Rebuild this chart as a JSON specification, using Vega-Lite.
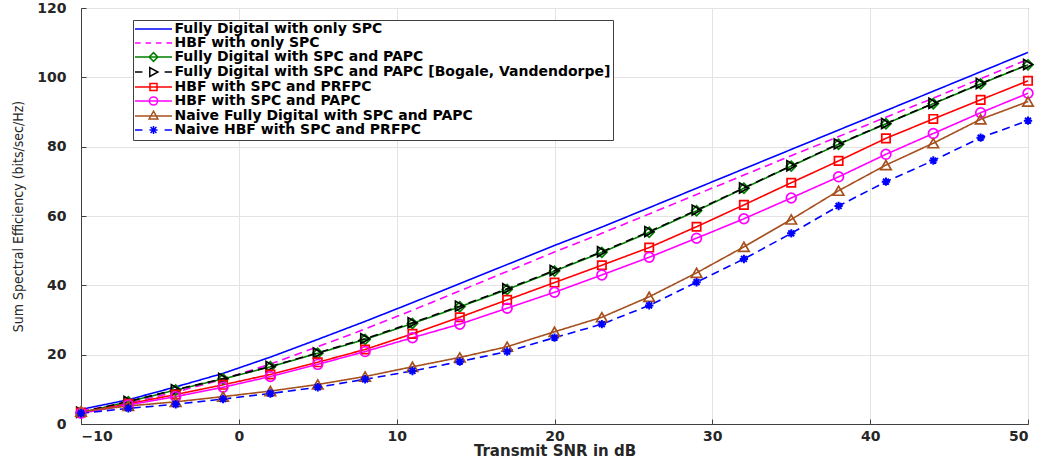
{
  "$schema": "https://vega.github.io/schema/vega-lite/v6.json",
  "width": 947,
  "height": 416,
  "autosize": {"type": "none"},
  "padding": {"left": 81, "top": 8, "right": 18, "bottom": 39},
  "background": "white",
  "config": {
    "view": {"stroke": "#404040", "strokeWidth": 1},
    "font": "DejaVu Sans",
    "axis": {
      "labelFont": "DejaVu Sans",
      "labelFontWeight": "bold",
      "labelFontSize": 14,
      "labelColor": "#262626",
      "domainColor": "#404040",
      "tickColor": "#404040",
      "tickSize": -5,
      "gridColor": "#e3e3e3",
      "grid": true
    }
  },
  "data": {"values": [
    {"series":"Fully Digital with only SPC","snr":-10,"se":4.2},{"series":"Fully Digital with only SPC","snr":-7,"se":7.0},{"series":"Fully Digital with only SPC","snr":-4,"se":10.7},{"series":"Fully Digital with only SPC","snr":-1,"se":14.6},{"series":"Fully Digital with only SPC","snr":2,"se":19.3},{"series":"Fully Digital with only SPC","snr":5,"se":24.4},{"series":"Fully Digital with only SPC","snr":8,"se":29.6},{"series":"Fully Digital with only SPC","snr":11,"se":35.0},{"series":"Fully Digital with only SPC","snr":14,"se":40.5},{"series":"Fully Digital with only SPC","snr":17,"se":46.0},{"series":"Fully Digital with only SPC","snr":20,"se":51.5},{"series":"Fully Digital with only SPC","snr":23,"se":56.8},{"series":"Fully Digital with only SPC","snr":26,"se":62.4},{"series":"Fully Digital with only SPC","snr":29,"se":68.0},{"series":"Fully Digital with only SPC","snr":32,"se":73.6},{"series":"Fully Digital with only SPC","snr":35,"se":79.2},{"series":"Fully Digital with only SPC","snr":38,"se":84.8},{"series":"Fully Digital with only SPC","snr":41,"se":90.4},{"series":"Fully Digital with only SPC","snr":44,"se":96.0},{"series":"Fully Digital with only SPC","snr":47,"se":101.6},{"series":"Fully Digital with only SPC","snr":50,"se":107.2},
    {"series":"HBF with only SPC","snr":-10,"se":3.8},{"series":"HBF with only SPC","snr":-7,"se":6.0},{"series":"HBF with only SPC","snr":-4,"se":9.2},{"series":"HBF with only SPC","snr":-1,"se":12.9},{"series":"HBF with only SPC","snr":2,"se":17.3},{"series":"HBF with only SPC","snr":5,"se":22.3},{"series":"HBF with only SPC","snr":8,"se":27.4},{"series":"HBF with only SPC","snr":11,"se":32.8},{"series":"HBF with only SPC","snr":14,"se":38.4},{"series":"HBF with only SPC","snr":17,"se":44.0},{"series":"HBF with only SPC","snr":20,"se":49.6},{"series":"HBF with only SPC","snr":23,"se":55.0},{"series":"HBF with only SPC","snr":26,"se":60.6},{"series":"HBF with only SPC","snr":29,"se":66.2},{"series":"HBF with only SPC","snr":32,"se":71.8},{"series":"HBF with only SPC","snr":35,"se":77.4},{"series":"HBF with only SPC","snr":38,"se":82.9},{"series":"HBF with only SPC","snr":41,"se":88.5},{"series":"HBF with only SPC","snr":44,"se":94.0},{"series":"HBF with only SPC","snr":47,"se":99.6},{"series":"HBF with only SPC","snr":50,"se":105.2},
    {"series":"Fully Digital with SPC and PAPC","snr":-10,"se":3.3},{"series":"Fully Digital with SPC and PAPC","snr":-7,"se":6.4},{"series":"Fully Digital with SPC and PAPC","snr":-4,"se":9.8},{"series":"Fully Digital with SPC and PAPC","snr":-1,"se":13.0},{"series":"Fully Digital with SPC and PAPC","snr":2,"se":16.5},{"series":"Fully Digital with SPC and PAPC","snr":5,"se":20.4},{"series":"Fully Digital with SPC and PAPC","snr":8,"se":24.4},{"series":"Fully Digital with SPC and PAPC","snr":11,"se":29.0},{"series":"Fully Digital with SPC and PAPC","snr":14,"se":33.8},{"series":"Fully Digital with SPC and PAPC","snr":17,"se":38.8},{"series":"Fully Digital with SPC and PAPC","snr":20,"se":44.1},{"series":"Fully Digital with SPC and PAPC","snr":23,"se":49.5},{"series":"Fully Digital with SPC and PAPC","snr":26,"se":55.3},{"series":"Fully Digital with SPC and PAPC","snr":29,"se":61.5},{"series":"Fully Digital with SPC and PAPC","snr":32,"se":68.0},{"series":"Fully Digital with SPC and PAPC","snr":35,"se":74.4},{"series":"Fully Digital with SPC and PAPC","snr":38,"se":80.7},{"series":"Fully Digital with SPC and PAPC","snr":41,"se":86.6},{"series":"Fully Digital with SPC and PAPC","snr":44,"se":92.4},{"series":"Fully Digital with SPC and PAPC","snr":47,"se":98.1},{"series":"Fully Digital with SPC and PAPC","snr":50,"se":103.6},
    {"series":"Fully Digital with SPC and PAPC [Bogale, Vandendorpe]","snr":-10,"se":3.4},{"series":"Fully Digital with SPC and PAPC [Bogale, Vandendorpe]","snr":-7,"se":6.5},{"series":"Fully Digital with SPC and PAPC [Bogale, Vandendorpe]","snr":-4,"se":9.9},{"series":"Fully Digital with SPC and PAPC [Bogale, Vandendorpe]","snr":-1,"se":13.1},{"series":"Fully Digital with SPC and PAPC [Bogale, Vandendorpe]","snr":2,"se":16.6},{"series":"Fully Digital with SPC and PAPC [Bogale, Vandendorpe]","snr":5,"se":20.5},{"series":"Fully Digital with SPC and PAPC [Bogale, Vandendorpe]","snr":8,"se":24.6},{"series":"Fully Digital with SPC and PAPC [Bogale, Vandendorpe]","snr":11,"se":29.2},{"series":"Fully Digital with SPC and PAPC [Bogale, Vandendorpe]","snr":14,"se":34.0},{"series":"Fully Digital with SPC and PAPC [Bogale, Vandendorpe]","snr":17,"se":39.0},{"series":"Fully Digital with SPC and PAPC [Bogale, Vandendorpe]","snr":20,"se":44.3},{"series":"Fully Digital with SPC and PAPC [Bogale, Vandendorpe]","snr":23,"se":49.7},{"series":"Fully Digital with SPC and PAPC [Bogale, Vandendorpe]","snr":26,"se":55.5},{"series":"Fully Digital with SPC and PAPC [Bogale, Vandendorpe]","snr":29,"se":61.7},{"series":"Fully Digital with SPC and PAPC [Bogale, Vandendorpe]","snr":32,"se":68.1},{"series":"Fully Digital with SPC and PAPC [Bogale, Vandendorpe]","snr":35,"se":74.5},{"series":"Fully Digital with SPC and PAPC [Bogale, Vandendorpe]","snr":38,"se":80.8},{"series":"Fully Digital with SPC and PAPC [Bogale, Vandendorpe]","snr":41,"se":86.7},{"series":"Fully Digital with SPC and PAPC [Bogale, Vandendorpe]","snr":44,"se":92.5},{"series":"Fully Digital with SPC and PAPC [Bogale, Vandendorpe]","snr":47,"se":98.2},{"series":"Fully Digital with SPC and PAPC [Bogale, Vandendorpe]","snr":50,"se":103.7},
    {"series":"HBF with SPC and PRFPC","snr":-10,"se":3.3},{"series":"HBF with SPC and PRFPC","snr":-7,"se":5.8},{"series":"HBF with SPC and PRFPC","snr":-4,"se":8.5},{"series":"HBF with SPC and PRFPC","snr":-1,"se":11.3},{"series":"HBF with SPC and PRFPC","snr":2,"se":14.3},{"series":"HBF with SPC and PRFPC","snr":5,"se":17.8},{"series":"HBF with SPC and PRFPC","snr":8,"se":21.5},{"series":"HBF with SPC and PRFPC","snr":11,"se":26.0},{"series":"HBF with SPC and PRFPC","snr":14,"se":30.8},{"series":"HBF with SPC and PRFPC","snr":17,"se":35.8},{"series":"HBF with SPC and PRFPC","snr":20,"se":40.8},{"series":"HBF with SPC and PRFPC","snr":23,"se":45.8},{"series":"HBF with SPC and PRFPC","snr":26,"se":50.9},{"series":"HBF with SPC and PRFPC","snr":29,"se":56.9},{"series":"HBF with SPC and PRFPC","snr":32,"se":63.2},{"series":"HBF with SPC and PRFPC","snr":35,"se":69.6},{"series":"HBF with SPC and PRFPC","snr":38,"se":75.9},{"series":"HBF with SPC and PRFPC","snr":41,"se":82.4},{"series":"HBF with SPC and PRFPC","snr":44,"se":88.0},{"series":"HBF with SPC and PRFPC","snr":47,"se":93.5},{"series":"HBF with SPC and PRFPC","snr":50,"se":99.0},
    {"series":"HBF with SPC and PAPC","snr":-10,"se":3.1},{"series":"HBF with SPC and PAPC","snr":-7,"se":5.5},{"series":"HBF with SPC and PAPC","snr":-4,"se":7.9},{"series":"HBF with SPC and PAPC","snr":-1,"se":10.6},{"series":"HBF with SPC and PAPC","snr":2,"se":13.7},{"series":"HBF with SPC and PAPC","snr":5,"se":17.2},{"series":"HBF with SPC and PAPC","snr":8,"se":20.9},{"series":"HBF with SPC and PAPC","snr":11,"se":24.9},{"series":"HBF with SPC and PAPC","snr":14,"se":28.8},{"series":"HBF with SPC and PAPC","snr":17,"se":33.4},{"series":"HBF with SPC and PAPC","snr":20,"se":38.0},{"series":"HBF with SPC and PAPC","snr":23,"se":43.0},{"series":"HBF with SPC and PAPC","snr":26,"se":48.1},{"series":"HBF with SPC and PAPC","snr":29,"se":53.6},{"series":"HBF with SPC and PAPC","snr":32,"se":59.2},{"series":"HBF with SPC and PAPC","snr":35,"se":65.2},{"series":"HBF with SPC and PAPC","snr":38,"se":71.3},{"series":"HBF with SPC and PAPC","snr":41,"se":77.8},{"series":"HBF with SPC and PAPC","snr":44,"se":83.8},{"series":"HBF with SPC and PAPC","snr":47,"se":89.8},{"series":"HBF with SPC and PAPC","snr":50,"se":95.4},
    {"series":"Naive Fully Digital with SPC and PAPC","snr":-10,"se":3.6},{"series":"Naive Fully Digital with SPC and PAPC","snr":-7,"se":5.2},{"series":"Naive Fully Digital with SPC and PAPC","snr":-4,"se":6.4},{"series":"Naive Fully Digital with SPC and PAPC","snr":-1,"se":7.9},{"series":"Naive Fully Digital with SPC and PAPC","snr":2,"se":9.5},{"series":"Naive Fully Digital with SPC and PAPC","snr":5,"se":11.4},{"series":"Naive Fully Digital with SPC and PAPC","snr":8,"se":13.7},{"series":"Naive Fully Digital with SPC and PAPC","snr":11,"se":16.5},{"series":"Naive Fully Digital with SPC and PAPC","snr":14,"se":19.2},{"series":"Naive Fully Digital with SPC and PAPC","snr":17,"se":22.3},{"series":"Naive Fully Digital with SPC and PAPC","snr":20,"se":26.6},{"series":"Naive Fully Digital with SPC and PAPC","snr":23,"se":30.8},{"series":"Naive Fully Digital with SPC and PAPC","snr":26,"se":36.7},{"series":"Naive Fully Digital with SPC and PAPC","snr":29,"se":43.6},{"series":"Naive Fully Digital with SPC and PAPC","snr":32,"se":51.1},{"series":"Naive Fully Digital with SPC and PAPC","snr":35,"se":59.0},{"series":"Naive Fully Digital with SPC and PAPC","snr":38,"se":67.3},{"series":"Naive Fully Digital with SPC and PAPC","snr":41,"se":74.7},{"series":"Naive Fully Digital with SPC and PAPC","snr":44,"se":81.0},{"series":"Naive Fully Digital with SPC and PAPC","snr":47,"se":87.9},{"series":"Naive Fully Digital with SPC and PAPC","snr":50,"se":93.0},
    {"series":"Naive HBF with SPC and PRFPC","snr":-10,"se":3.1},{"series":"Naive HBF with SPC and PRFPC","snr":-7,"se":4.5},{"series":"Naive HBF with SPC and PRFPC","snr":-4,"se":5.7},{"series":"Naive HBF with SPC and PRFPC","snr":-1,"se":7.2},{"series":"Naive HBF with SPC and PRFPC","snr":2,"se":8.8},{"series":"Naive HBF with SPC and PRFPC","snr":5,"se":10.6},{"series":"Naive HBF with SPC and PRFPC","snr":8,"se":12.9},{"series":"Naive HBF with SPC and PRFPC","snr":11,"se":15.3},{"series":"Naive HBF with SPC and PRFPC","snr":14,"se":18.0},{"series":"Naive HBF with SPC and PRFPC","snr":17,"se":20.9},{"series":"Naive HBF with SPC and PRFPC","snr":20,"se":24.9},{"series":"Naive HBF with SPC and PRFPC","snr":23,"se":28.8},{"series":"Naive HBF with SPC and PRFPC","snr":26,"se":34.2},{"series":"Naive HBF with SPC and PRFPC","snr":29,"se":40.9},{"series":"Naive HBF with SPC and PRFPC","snr":32,"se":47.6},{"series":"Naive HBF with SPC and PRFPC","snr":35,"se":55.0},{"series":"Naive HBF with SPC and PRFPC","snr":38,"se":62.9},{"series":"Naive HBF with SPC and PRFPC","snr":41,"se":69.9},{"series":"Naive HBF with SPC and PRFPC","snr":44,"se":76.0},{"series":"Naive HBF with SPC and PRFPC","snr":47,"se":82.6},{"series":"Naive HBF with SPC and PRFPC","snr":50,"se":87.5}
  ]},
  "encoding": {
    "x": {
      "field": "snr", "type": "quantitative",
      "scale": {"domain": [-10, 50], "nice": false},
      "axis": {"values": [-10, 0, 10, 20, 30, 40, 50], "title": "Transmit SNR in dB", "titleFont": "DejaVu Sans", "titleFontWeight": "bold", "titleFontSize": 15, "titleColor": "#262626", "labelPadding": 10, "titlePadding": 0}
    },
    "y": {
      "field": "se", "type": "quantitative",
      "scale": {"domain": [0, 120], "nice": false},
      "axis": {"values": [0, 20, 40, 60, 80, 100, 120], "title": "Sum Spectral Efficiency (bits/sec/Hz)", "titleFont": "Liberation Sans Narrow, DejaVu Sans Condensed, sans-serif", "titleFontWeight": "normal", "titleFontSize": 14, "titleColor": "#262626", "labelPadding": 20, "titlePadding": 11}
    },
    "color": {"field": "series", "type": "nominal", "legend": null,
      "scale": {"domain": ["Fully Digital with only SPC","HBF with only SPC","Fully Digital with SPC and PAPC","Fully Digital with SPC and PAPC [Bogale, Vandendorpe]","HBF with SPC and PRFPC","HBF with SPC and PAPC","Naive Fully Digital with SPC and PAPC","Naive HBF with SPC and PRFPC"],
                "range": ["#0000FF","#FF00FF","#008000","#000000","#FF0000","#FF00FF","#A5501E","#0000FF"]}}
  },
  "layer": [
    {
      "mark": {"type": "line", "strokeWidth": 1.6},
      "encoding": {
        "strokeDash": {"field": "series", "type": "nominal", "legend": null,
          "scale": {"domain": ["Fully Digital with only SPC","HBF with only SPC","Fully Digital with SPC and PAPC","Fully Digital with SPC and PAPC [Bogale, Vandendorpe]","HBF with SPC and PRFPC","HBF with SPC and PAPC","Naive Fully Digital with SPC and PAPC","Naive HBF with SPC and PRFPC"],
                    "range": [[1,0],[8,5],[1,0],[8,5],[1,0],[1,0],[1,0],[8,5]]}}
      }
    },
    {
      "transform": [{"filter": {"field": "series", "equal": "Fully Digital with SPC and PAPC"}}],
      "mark": {"type": "point", "shape": "diamond", "filled": false, "strokeWidth": 1.7, "size": 100, "opacity": 1},
      "encoding": {}
    },
    {
      "transform": [{"filter": {"field": "series", "equal": "Fully Digital with SPC and PAPC [Bogale, Vandendorpe]"}}],
      "mark": {"type": "point", "shape": "triangle-right", "filled": false, "strokeWidth": 1.7, "size": 100, "opacity": 1},
      "encoding": {}
    },
    {
      "transform": [{"filter": {"field": "series", "equal": "HBF with SPC and PRFPC"}}],
      "mark": {"type": "point", "shape": "square", "filled": false, "strokeWidth": 1.7, "size": 70, "opacity": 1},
      "encoding": {}
    },
    {
      "transform": [{"filter": {"field": "series", "equal": "HBF with SPC and PAPC"}}],
      "mark": {"type": "point", "shape": "circle", "filled": false, "strokeWidth": 1.7, "size": 95, "opacity": 1},
      "encoding": {}
    },
    {
      "transform": [{"filter": {"field": "series", "equal": "Naive Fully Digital with SPC and PAPC"}}],
      "mark": {"type": "point", "shape": "triangle-up", "filled": false, "strokeWidth": 1.7, "size": 110, "opacity": 1},
      "encoding": {}
    },
    {
      "transform": [{"filter": {"field": "series", "equal": "Naive HBF with SPC and PRFPC"}}],
      "mark": {"type": "point", "shape": "M-1,0L1,0M0,-1L0,1M-0.7,-0.7L0.7,0.7M-0.7,0.7L0.7,-0.7", "filled": false, "strokeWidth": 2, "size": 70, "opacity": 1},
      "encoding": {}
    },
    {
      "mark": {"type": "point", "filled": false, "opacity": 0},
      "encoding": {
        "color": {"field": "series", "type": "nominal",
          "scale": {"domain": ["Fully Digital with only SPC","HBF with only SPC","Fully Digital with SPC and PAPC","Fully Digital with SPC and PAPC [Bogale, Vandendorpe]","HBF with SPC and PRFPC","HBF with SPC and PAPC","Naive Fully Digital with SPC and PAPC","Naive HBF with SPC and PRFPC"],
                    "range": ["#0000FF","#FF00FF","#008000","#000000","#FF0000","#FF00FF","#A5501E","#0000FF"]},
          "legend": {"title": null, "orient": "none", "legendX": 52, "legendY": 12, "symbolSize": 121, "symbolOffset": 11.5, "symbolStrokeWidth": 1.5, "symbolOpacity": 1, "labelFont": "DejaVu Sans", "labelFontWeight": "bold", "labelFontSize": 14, "labelColor": "#000000", "padding": 2, "rowPadding": -1, "labelOffset": 14, "strokeColor": "#404040", "fillColor": "#ffffff", "labelLimit": 700}},
        "shape": {"field": "series", "type": "nominal",
          "scale": {"domain": ["Fully Digital with only SPC","HBF with only SPC","Fully Digital with SPC and PAPC","Fully Digital with SPC and PAPC [Bogale, Vandendorpe]","HBF with SPC and PRFPC","HBF with SPC and PAPC","Naive Fully Digital with SPC and PAPC","Naive HBF with SPC and PRFPC"],
                    "range": [
                      "M-3.37,0L3.37,0",
                      "M-3.37,0L-2.35,0M-1.44,0L-0.44,0M0.44,0L1.44,0M2.35,0L3.37,0",
                      "M-3.37,0L3.37,0M0,-0.8L0.8,0L0,0.8L-0.8,0Z",
                      "M-3.37,0L-2.02,0M2.02,0L3.37,0M-0.67,-0.8L0.8,0L-0.67,0.8Z",
                      "M-3.37,0L3.37,0M-0.64,-0.64L0.64,-0.64L0.64,0.64L-0.64,0.64Z",
                      "M-3.37,0L3.37,0M-0.74,0A0.74,0.74,0,1,0,0.74,0A0.74,0.74,0,1,0,-0.74,0Z",
                      "M-3.37,0L3.37,0M0,-0.87L0.8,0.54L-0.8,0.54Z",
                      "M-3.37,0L-2.02,0M2.02,0L3.37,0M-0.74,0L0.74,0M0,-0.74L0,0.74M-0.53,-0.53L0.53,0.53M-0.53,0.53L0.53,-0.53"
                    ]},
          "legend": {"title": null, "orient": "none", "legendX": 52, "legendY": 12, "symbolSize": 121, "symbolOffset": 11.5, "symbolStrokeWidth": 1.5, "symbolOpacity": 1, "labelFont": "DejaVu Sans", "labelFontWeight": "bold", "labelFontSize": 14, "labelColor": "#000000", "padding": 2, "rowPadding": -1, "labelOffset": 14, "strokeColor": "#404040", "fillColor": "#ffffff", "labelLimit": 700}}
      }
    }
  ],
  "resolve": {"legend": {"color": "independent", "shape": "independent", "strokeDash": "independent"}}
}
